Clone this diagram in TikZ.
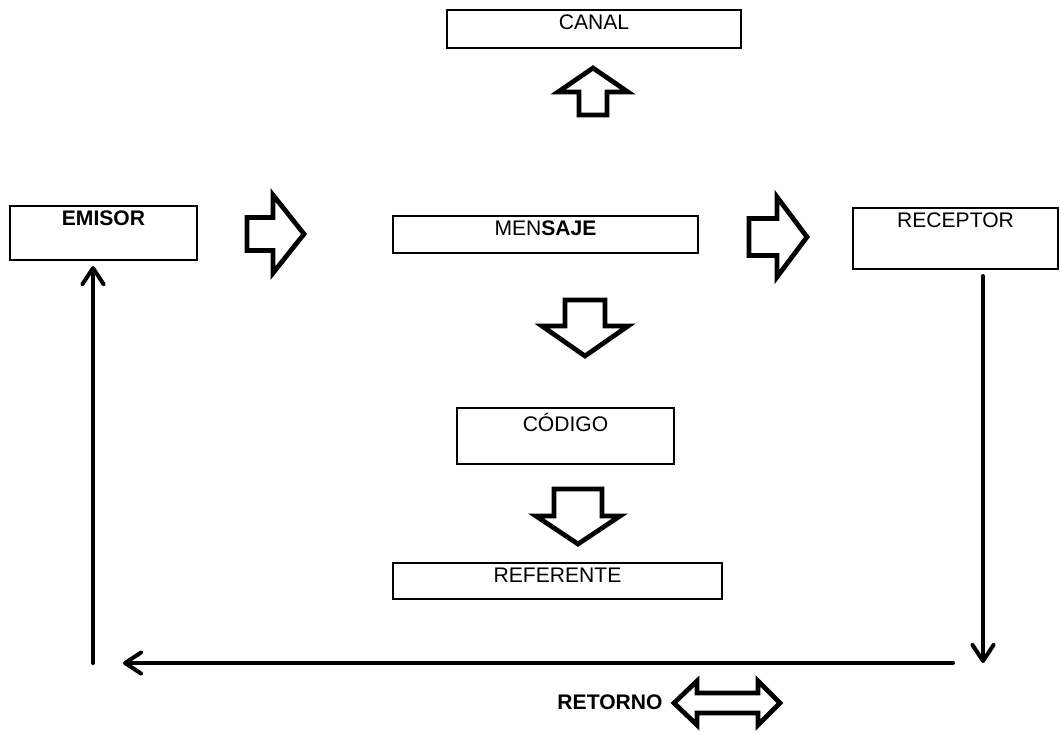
\documentclass[tikz,border=0pt]{standalone}
\usepackage{fontspec}
\setmainfont{Liberation Sans}
\usepackage{tikz}
\usetikzlibrary{arrows.meta, positioning, calc}

\tikzset{
  box/.style={draw, line width=1.2pt, rectangle, inner sep=0pt},
  tag/.style={inner sep=3.2pt},
  blockline/.style={line width=2.7pt, line join=miter, fill=white},
  flow/.style={line width=2.3pt, line cap=round,
    -{Straight Barb[length=0.32cm, width=0.42cm, line cap=round, line join=round]}},
}

% tail at #1, direction #2, length #3, head length #4, head half width #5, shaft half width #6
\newcommand{\blockarrow}[6]{%
  \draw[blockline, shift={#1}, rotate=#2]
    (0,-#6) -- ({#3-#4},-#6) -- ({#3-#4},-#5) -- (#3,0)
    -- ({#3-#4},#5) -- ({#3-#4},#6) -- (0,#6) -- cycle;}

\begin{document}
\begin{tikzpicture}[x=0.02cm, y=-0.02cm, font=\fontsize{12pt}{14pt}\selectfont]
  \useasboundingbox (0,0) rectangle (1060,731);

  % boxes
  \node[box, minimum width=5.88cm, minimum height=0.76cm] (canal) at (594,29) {};
  \node[tag, below=0pt of canal.north] {CANAL};
  \node[box, minimum width=3.74cm, minimum height=1.08cm] (emisor) at (103.5,233) {};
  \node[tag, below=0pt of emisor.north] {\textbf{EMISOR}};
  \node[box, minimum width=6.1cm, minimum height=0.74cm] (mensaje) at (545.5,234.5) {};
  \node[tag, below=0pt of mensaje.north] {MEN\textbf{SAJE}};
  \node[box, minimum width=4.1cm, minimum height=1.22cm] (receptor) at (955.5,238.5) {};
  \node[tag, below=0pt of receptor.north] {RECEPTOR};
  \node[box, minimum width=4.34cm, minimum height=1.12cm] (codigo) at (565.5,436) {};
  \node[tag, below=0pt of codigo.north] {CÓDIGO};
  \node[box, minimum width=6.58cm, minimum height=0.72cm] (referente) at (557.5,581) {};
  \node[tag, below=0pt of referente.north] {REFERENTE};
  \node (retorno) at (610,702.5) {\textbf{RETORNO}};

  % block arrows
  \blockarrow{(593,115)}{90}{47}{24}{35}{14}
  \blockarrow{(247,234)}{0}{57}{31}{39}{16.5}
  \blockarrow{(749,237)}{0}{58}{30}{40}{18.5}
  \blockarrow{(585,300)}{-90}{56}{30}{43}{20}
  \blockarrow{(578,489)}{-90}{55}{28}{42}{24}
  \draw[blockline] (674,703) -- (697,681) -- (697,693) -- (758,693) -- (758,681)
    -- (780,703) -- (758,725) -- (758,713) -- (697,713) -- (697,725) -- cycle;

  % feedback loop
  \coordinate (rb) at (983,663);
  \coordinate (br) at (953,663);
  \coordinate (bl) at (123,663);
  \coordinate (lb) at (93,663);
  \draw[flow, shorten <=0.12cm] (rb |- receptor.south) -- (rb);
  \draw[flow] (br) -- (bl);
  \draw[flow, shorten >=0.1cm] (lb) -- (lb |- emisor.south);
\end{tikzpicture}
\end{document}
